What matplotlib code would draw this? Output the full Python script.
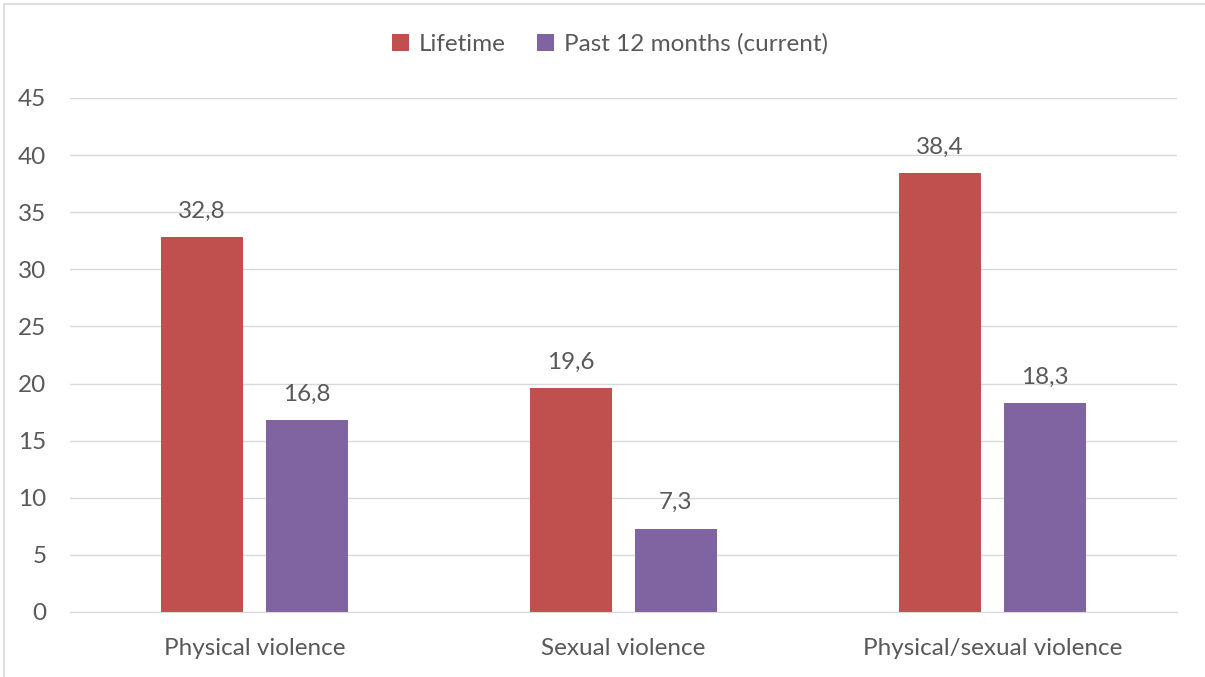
import matplotlib.pyplot as plt
from matplotlib.patches import Rectangle
import numpy as np

categories = ["Physical violence", "Sexual violence", "Physical/sexual violence"]
lifetime = [32.8, 19.6, 38.4]
past_12_months = [16.8, 7.3, 18.3]
series_names = ["Lifetime", "Past 12 months (current)"]
yticks = [0, 5, 10, 15, 20, 25, 30, 35, 40, 45]

RED = "#C0504D"
PURPLE = "#8064A2"
TEXT = "#595959"
GRID = "#D9D9D9"
FS = 17.5

plt.rcParams["font.family"] = ["Lato", "DejaVu Sans"]

W, H = 1205, 677
fig = plt.figure(figsize=(W / 100, H / 100), dpi=100)
ax = fig.add_axes([70 / W, 1 - 612 / H, (1177 - 70) / W, (612 - 98) / H])

x = np.arange(len(categories))
width = 0.222
offset = 0.142
b1 = ax.bar(x - offset, lifetime, width, color=RED, label=series_names[0])
b2 = ax.bar(x + offset, past_12_months, width, color=PURPLE, label=series_names[1])

for bars, vals in ((b1, lifetime), (b2, past_12_months)):
    for rect, v in zip(bars, vals):
        ax.annotate(f"{v:.1f}".replace(".", ","),
                    (rect.get_x() + rect.get_width() / 2, v),
                    xytext=(0, 11), textcoords="offset points",
                    ha="center", va="bottom", fontsize=FS, color=TEXT)

ax.set_xlim(-0.5, len(categories) - 0.5)
ax.set_ylim(0, 45)
ax.set_yticks(yticks)
ax.set_xticks(x)
ax.set_xticklabels(categories)
ax.tick_params(axis="both", length=0, labelsize=FS, colors=TEXT)
ax.tick_params(axis="y", pad=17)
ax.tick_params(axis="x", pad=18.5)
ax.grid(axis="y", color=GRID, linewidth=1)
ax.set_axisbelow(True)
for side in ("top", "right", "left"):
    ax.spines[side].set_visible(False)
ax.spines["bottom"].set_color(GRID)

fig.legend(loc="center", bbox_to_anchor=(610 / W, 1 - 44 / H), ncol=2,
           frameon=False, fontsize=FS, labelcolor=TEXT,
           handlelength=0.7, handleheight=0.7, handletextpad=0.4,
           columnspacing=1.3)

# light chart border
fig.patches.append(Rectangle((4 / W, -0.01), 1.0, 1 - 4 / H + 0.01,
                             transform=fig.transFigure, fill=False,
                             edgecolor="#D9D9D9", linewidth=1.2))

fig.savefig("out.png", dpi=100)
